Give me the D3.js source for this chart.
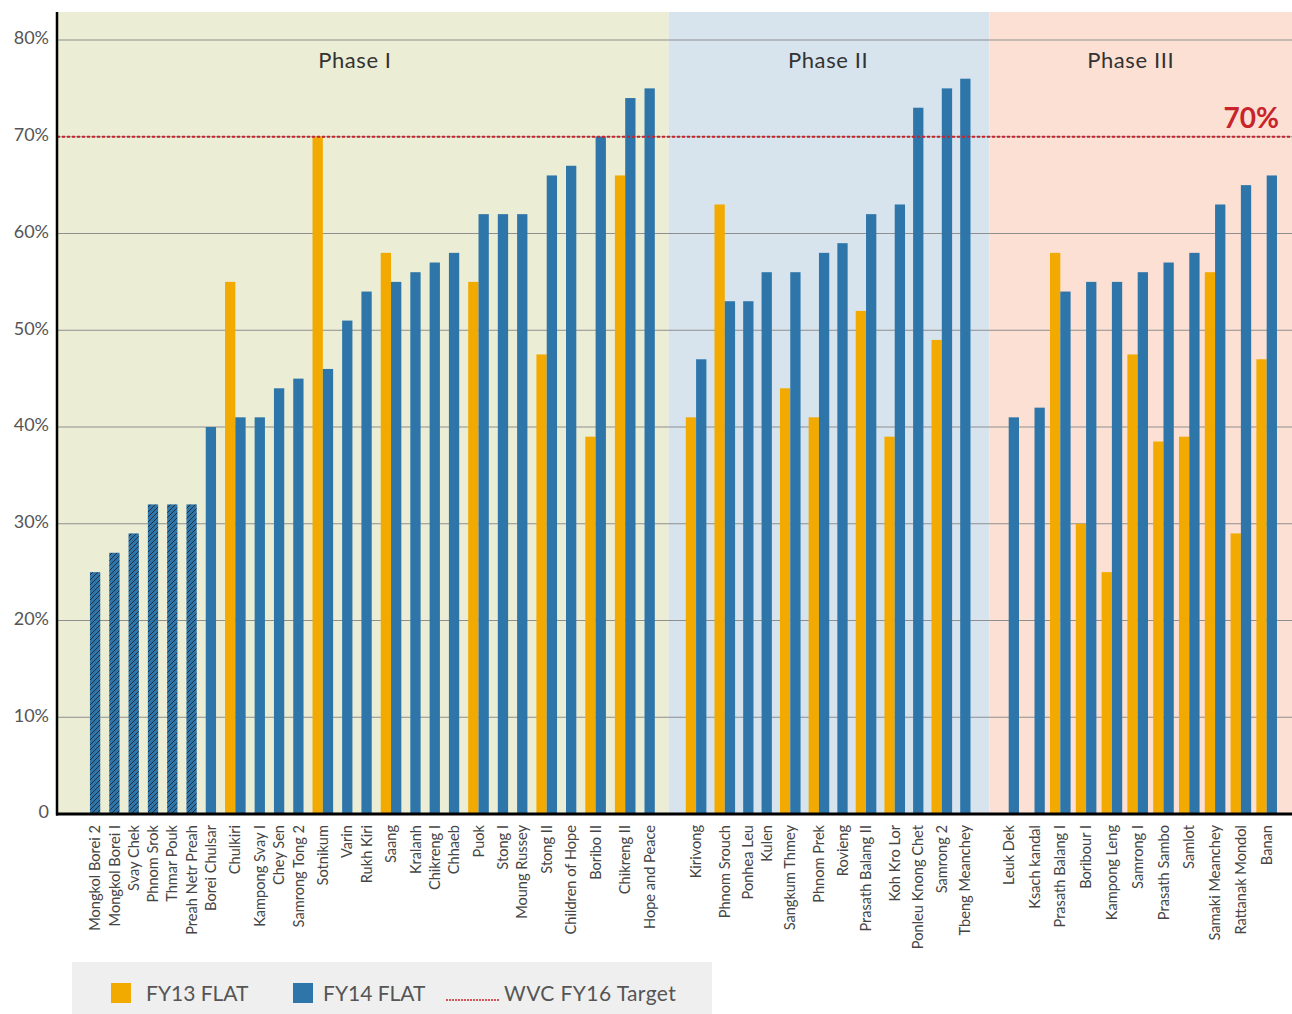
<!DOCTYPE html>
<html>
<head>
<meta charset="utf-8">
<script src="https://cdn.jsdelivr.net/npm/d3@7"></script>
<style>
  html, body { margin: 0; padding: 0; background: #ffffff; }
  svg { display: block; font-family: "Lato", "Open Sans", sans-serif; }
</style>
</head>
<body>
<svg id="chart" width="1292" height="1014"></svg>
<script>
// ---- Data -------------------------------------------------------------
const phaseNames = ["Phase I", "Phase II", "Phase III"];

const phaseICategories = [
  "Mongkol Borei 2", "Mongkol Borei I", "Svay Chek", "Phnom Srok", "Thmar Pouk",
  "Preah Netr Preah", "Borei Chulsar", "Chulkiri", "Kampong Svay I", "Chey Sen",
  "Samrong Tong 2", "Sotnikum", "Varin", "Rukh Kiri", "Saang", "Kralanh",
  "Chikreng I", "Chhaeb", "Puok", "Stong I", "Moung Russey", "Stong II",
  "Children of Hope", "Boribo II", "Chikreng II", "Hope and Peace"
];
const phaseIFY13 = [
  null, null, null, null, null, null, null, 55, null, null,
  null, 70, null, null, 58, null, null, null, 55, null, null, 47.5,
  null, 39, 66, null
];
const phaseIFY14 = [
  25, 27, 29, 32, 32, 32, 40, 41, 41, 44,
  45, 46, 51, 54, 55, 56, 57, 58, 62, 62, 62, 66,
  67, 70, 74, 75
];

const phaseIICategories = [
  "Kirivong", "Phnom Srouch", "Ponhea Leu", "Kulen", "Sangkum Thmey",
  "Phnom Prek", "Rovieng", "Prasath Balang II", "Koh Kro Lor",
  "Ponleu Knong Chet", "Samrong 2", "Tbeng Meanchey"
];
const phaseIIFY13 = [41, 63, null, null, 44, 41, null, 52, 39, null, 49, null];
const phaseIIFY14 = [47, 53, 53, 56, 56, 58, 59, 62, 63, 73, 75, 76];

const phaseIIICategories = [
  "Leuk Dek", "Ksach kandal", "Prasath Balang I", "Boribour I", "Kampong Leng",
  "Samrong I", "Prasath Sambo", "Samlot", "Samaki Meanchey", "Rattanak Mondol",
  "Banan"
];
const phaseIIIFY13 = [null, null, 58, 30, 25, 47.5, 38.5, 39, 56, 29, 47];
const phaseIIIFY14 = [41, 42, 54, 55, 55, 56, 57, 58, 63, 65, 66];

// FY14 bars drawn with a hatched fill
const hatchedCategories = [
  "Mongkol Borei 2", "Mongkol Borei I", "Svay Chek", "Phnom Srok",
  "Thmar Pouk", "Preah Netr Preah"
];

const targetValue = 70;
const targetLabel = "70%";
const yTickValues = [0, 10, 20, 30, 40, 50, 60, 70, 80];
const yTickLabels = ["0", "10%", "20%", "30%", "40%", "50%", "60%", "70%", "80%"];
const legendLabels = ["FY13 FLAT", "FY14 FLAT", "WVC FY16 Target"];

// ---- Styles & layout ---------------------------------------------------
const COLORS = {
  fy13: "#f3aa00",
  fy14: "#2e76aa",
  hatch: "#1d2f40",
  target: "#c9232b",
  grid: "#8f8f8f",
  text: "#454545",
  phaseBg: ["#ebedd4", "#d7e4ee", "#fce0d4"]
};
const plot = { left: 57, right: 1292, top: 12, bottom: 814 };

// Per-phase spacing, in bar-width units (padding left, gap between
// categories, padding right, whether every category keeps an FY13 slot)
const phaseLayout = [
  { padL: 3.2, gap: 0.874, padR: 1.36, keepSlot: false, titleShift: -8 },
  { padL: 1.65, gap: 0.786, padR: 1.84, keepSlot: false, titleShift: -1 },
  { padL: 0.87, gap: 0.505, padR: 1.46, keepSlot: true, titleShift: -10 }
];

const phaseData = [
  { cats: phaseICategories, fy13: phaseIFY13, fy14: phaseIFY14 },
  { cats: phaseIICategories, fy13: phaseIIFY13, fy14: phaseIIFY14 },
  { cats: phaseIIICategories, fy13: phaseIIIFY13, fy14: phaseIIIFY14 }
];

// Build unit positions for every bar and phase band
const bars = [];
const labels = [];
const phaseBands = [];
let u = 0;
phaseData.forEach((p, pi) => {
  const L = phaseLayout[pi];
  const start = u;
  u += L.padL;
  p.cats.forEach((c, i) => {
    const catStart = u;
    const hasFY13 = p.fy13[i] != null;
    if (hasFY13 || L.keepSlot) {
      if (hasFY13) bars.push({ series: "fy13", cat: c, u0: u, value: p.fy13[i] });
      u += 1;
    }
    bars.push({ series: "fy14", cat: c, u0: u, value: p.fy14[i],
                hatched: hatchedCategories.includes(c) });
    u += 1;
    labels.push({ cat: c, uc: (catStart + u) / 2 });
    if (i < p.cats.length - 1) u += L.gap;
  });
  u += L.padR;
  phaseBands.push({ name: phaseNames[pi], u0: start, u1: u, shift: L.titleShift });
});
const totalUnits = u;

// ---- Scales -------------------------------------------------------------
const x = d3.scaleLinear().domain([0, totalUnits]).range([plot.left, plot.right]);
const y = d3.scaleLinear().domain([0, 80]).range([plot.bottom, 40]);
const yTop = y.invert(plot.top);

const svg = d3.select("#chart");

// Hatch pattern
const defs = svg.append("defs");
const pat = defs.append("pattern")
  .attr("id", "hatch").attr("patternUnits", "userSpaceOnUse")
  .attr("width", 5).attr("height", 5);
pat.append("rect").attr("width", 5).attr("height", 5).attr("fill", COLORS.fy14);
pat.append("path")
  .attr("d", "M-1,1 l2,-2 M0,5 l5,-5 M4,6 l2,-2")
  .attr("stroke", COLORS.hatch).attr("stroke-width", 1);

// Phase backgrounds
svg.append("g").selectAll("rect").data(phaseBands).join("rect")
  .attr("x", d => x(d.u0)).attr("width", d => x(d.u1) - x(d.u0))
  .attr("y", y(yTop)).attr("height", y(0) - y(yTop))
  .attr("fill", (d, i) => COLORS.phaseBg[i]);

// Gridlines
svg.append("g").selectAll("line").data(yTickValues.filter(v => v > 0)).join("line")
  .attr("x1", plot.left).attr("x2", plot.right)
  .attr("y1", d => y(d)).attr("y2", d => y(d))
  .attr("stroke", COLORS.grid).attr("stroke-width", 1);

// Phase titles
svg.append("g").selectAll("text").data(phaseBands).join("text")
  .attr("x", d => (x(d.u0) + x(d.u1)) / 2 + d.shift)
  .attr("y", 68)
  .attr("text-anchor", "middle")
  .attr("font-size", 22)
  .attr("letter-spacing", 0.6)
  .attr("fill", "#333")
  .text(d => d.name);

// Bars
const bw = x(1) - x(0);
svg.append("g").selectAll("rect").data(bars).join("rect")
  .attr("x", d => x(d.u0))
  .attr("width", bw)
  .attr("y", d => y(d.value))
  .attr("height", d => y(0) - y(d.value))
  .attr("fill", d => d.series === "fy13" ? COLORS.fy13 : (d.hatched ? "url(#hatch)" : COLORS.fy14));

// Target line
svg.append("line")
  .attr("x1", plot.left).attr("x2", plot.right)
  .attr("y1", y(targetValue)).attr("y2", y(targetValue))
  .attr("stroke", COLORS.target).attr("stroke-width", 2)
  .attr("stroke-dasharray", "3,2");
svg.append("text")
  .attr("x", 1279).attr("y", y(targetValue) - 9)
  .attr("text-anchor", "end")
  .attr("font-size", 28).attr("font-weight", 700)
  .attr("fill", COLORS.target)
  .text(targetLabel);

// Y axis labels
svg.append("g").selectAll("text").data(yTickValues).join("text")
  .attr("x", 49)
  .attr("y", d => y(d) - 2)
  .attr("dy", "0.35em")
  .attr("text-anchor", "end")
  .attr("font-size", 18)
  .attr("fill", "#555")
  .text((d, i) => yTickLabels[i]);

// Axis lines
svg.append("line")
  .attr("x1", plot.left).attr("x2", plot.left)
  .attr("y1", plot.top).attr("y2", plot.bottom + 1.5)
  .attr("stroke", "#000").attr("stroke-width", 2.5);
svg.append("line")
  .attr("x1", plot.left - 1).attr("x2", plot.right)
  .attr("y1", plot.bottom).attr("y2", plot.bottom)
  .attr("stroke", "#000").attr("stroke-width", 3);

// Category labels (rotated)
svg.append("g").selectAll("text").data(labels).join("text")
  .attr("transform", d => `translate(${x(d.uc)},${plot.bottom + 11}) rotate(-90)`)
  .attr("dy", "0.35em")
  .attr("text-anchor", "end")
  .attr("font-size", 14.6)
  .attr("fill", COLORS.text)
  .text(d => d.cat);

// Legend
const lg = svg.append("g");
lg.append("rect").attr("x", 72).attr("y", 962).attr("width", 640).attr("height", 52)
  .attr("fill", "#efefef");
lg.append("rect").attr("x", 111).attr("y", 983).attr("width", 20).attr("height", 20)
  .attr("fill", COLORS.fy13);
lg.append("text").attr("x", 146).attr("y", 1001).attr("font-size", 21)
  .attr("fill", "#555").text(legendLabels[0]);
lg.append("rect").attr("x", 293).attr("y", 983).attr("width", 20).attr("height", 20)
  .attr("fill", COLORS.fy14);
lg.append("text").attr("x", 323).attr("y", 1001).attr("font-size", 21)
  .attr("fill", "#555").text(legendLabels[1]);
lg.append("line").attr("x1", 446).attr("x2", 499).attr("y1", 1000).attr("y2", 1000)
  .attr("stroke", COLORS.target).attr("stroke-width", 1.5)
  .attr("stroke-dasharray", "2,1");
lg.append("text").attr("x", 504).attr("y", 1001).attr("font-size", 21)
  .attr("letter-spacing", 0.4)
  .attr("fill", "#555").text(legendLabels[2]);
</script>
</body>
</html>
